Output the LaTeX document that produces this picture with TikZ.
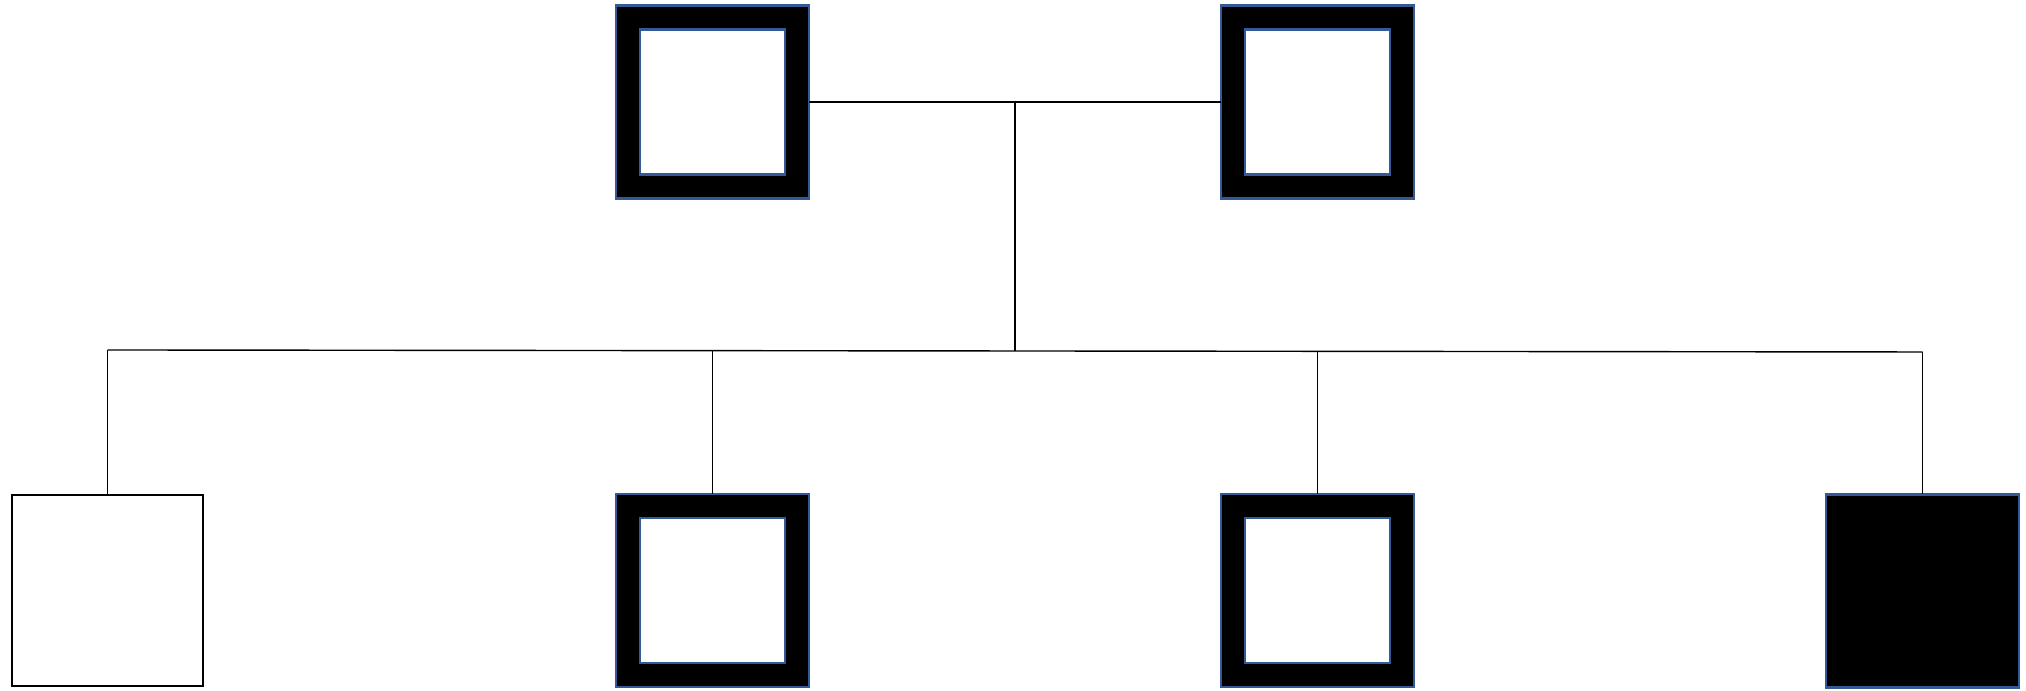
\documentclass[tikz,border=0pt]{standalone}
\usetikzlibrary{calc}
\definecolor{bord}{HTML}{335A96}
\begin{document}
\begin{tikzpicture}[
  conn/.style={draw=black, line width=0.4pt},
  outerbox/.style={draw=bord, fill=black, line width=0.6pt, minimum size=1.93cm, inner sep=0pt, outer sep=0pt, rectangle},
  innerbox/.style={draw=bord, fill=white, line width=0.6pt, minimum size=1.45cm, inner sep=0pt, outer sep=0pt, rectangle},
  plainbox/.style={draw=black, fill=white, line width=0.8pt, minimum size=1.91cm, inner sep=0pt, outer sep=0pt, rectangle},
  fullbox/.style={draw=bord, fill=black, line width=0.6pt, minimum size=1.93cm, inner sep=0pt, outer sep=0pt, rectangle}
]
\useasboundingbox (0,0) rectangle (20.26,6.91);

% parents
\node[outerbox] (TL) at (7.125,5.89) {};
\node[innerbox] (TLi) at (TL) {};
\node[outerbox] (TR) at (13.175,5.89) {};
\node[innerbox] (TRi) at (TR) {};

% children
\node[plainbox] (C1) at (1.075,1.005) {};
\node[outerbox] (C2) at (7.125,1.005) {};
\node[innerbox] (C2i) at (C2) {};
\node[outerbox] (C3) at (13.175,1.005) {};
\node[innerbox] (C3i) at (C3) {};
\node[fullbox] (C4) at (19.225,1.0) {};

% connector points
\coordinate (m) at (10.15,5.89);
\coordinate (sib) at (10.15,3.40);
\coordinate (s1) at (1.075,3.41);
\coordinate (s4) at (19.225,3.39);

% connectors
\draw[conn] (TL.east) -- (TR.west);
\draw[conn] (m) -- (sib);
\draw[conn] (s1) -- (s4);
\draw[conn] (C1.north) -- (s1);
\draw[conn] (C2.north) -- (C2.north |- sib);
\draw[conn] (C3.north) -- (C3.north |- sib);
\draw[conn] (C4.north) -- (s4);
\end{tikzpicture}
\end{document}
